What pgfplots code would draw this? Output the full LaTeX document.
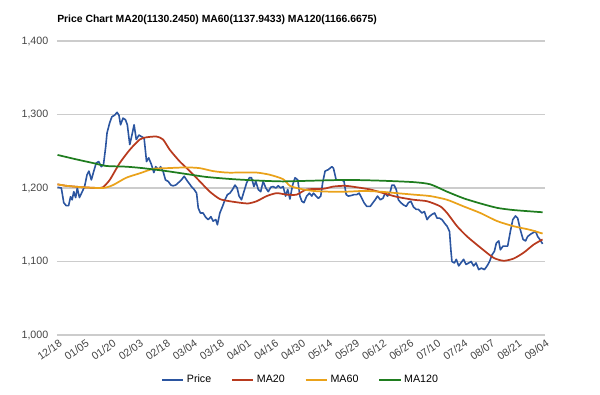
\documentclass[border=0pt]{standalone}
\usepackage{pgfplots}
\pgfplotsset{compat=1.18}
\usepackage{fontspec}
\setmainfont{Liberation Sans}
\definecolor{cPrice}{HTML}{2B55A0}
\definecolor{cMA20}{HTML}{B83A1E}
\definecolor{cMA60}{HTML}{EAA21A}
\definecolor{cMA120}{HTML}{1F7D1F}
\definecolor{gridc}{HTML}{CCCCCC}
\definecolor{tickc}{HTML}{444444}
\begin{document}
\begin{tikzpicture}
\path[use as bounding box] (-42.75pt,-44.25pt) rectangle (407.25pt,251.25pt);
\begin{axis}[
  scale only axis,
  width=366pt, height=220.5pt,
  xmin=-0.2, xmax=180.2,
  ymin=1000, ymax=1400,
  axis line style={draw=none},
  tick style={draw=none},
  ytick={1000,1100,1200,1300,1400},
  ymajorgrids,
  grid style={gridc, line width=0.8pt},
  xtick={0,10,...,180},
  xticklabels={12/18,01/05,01/20,02/03,02/18,03/04,03/18,04/01,04/16,04/30,05/14,05/29,06/12,06/26,07/10,07/24,08/07,08/21,09/04},
  xticklabel style={rotate=35, anchor=north east, inner sep=1pt, font=\fontsize{8}{9}\selectfont, text=tickc, yshift=-1.5pt},
  yticklabel style={font=\fontsize{8}{9}\selectfont, text=tickc, xshift=-3pt},
  /pgf/number format/assume math mode=true,
  /pgf/number format/1000 sep={,},
  scaled y ticks=false,
  legend columns=4,
  legend style={at={(0.5,-0.153)}, anchor=center, draw=none, fill=none,
    font=\fontsize{8}{9}\selectfont,
    /tikz/every even column/.append style={column sep=13pt}},
  legend image code/.code={\draw[#1] (0pt,0pt) -- (16pt,0pt);},
]
\addplot[cPrice, line width=1.2pt, line join=round] coordinates {
(0,1201)(1.4,1200)(2.3,1180)(3.2,1176)(4.1,1176)(4.8,1188)(5.4,1184)(6.0,1195)(6.7,1187)(7.3,1200)
(8.1,1187)(9.0,1194)(10.0,1202)(10.9,1218)(11.6,1223)(12.5,1211)(13.4,1223)(14.3,1234)(15.2,1236)(16.2,1229)
(17.0,1232)(17.8,1256)(18.3,1275)(19.3,1289)(20.1,1297)(21.1,1299)(22.0,1303)(22.7,1299)(23.3,1286)(24.2,1295)
(25.1,1293)(25.8,1286)(26.7,1259)(27.5,1272)(28.3,1286)(29.1,1266)(30.1,1272)(31.0,1270)(32.0,1268)(32.9,1236)
(33.7,1241)(34.7,1232)(35.6,1221)(36.3,1229)(37.4,1225)(38.1,1229)(39.0,1223)(39.9,1211)(40.9,1209)(41.9,1204)
(42.7,1203)(43.7,1204)(44.6,1207)(45.8,1211)(46.8,1216)(47.7,1211)(48.5,1207)(49.5,1202)(50.5,1198)(51.4,1193)
(52.0,1173)(52.8,1166)(53.8,1166)(54.8,1160)(55.7,1157)(56.7,1161)(57.5,1155)(58.5,1157)(59.1,1150)(60.0,1166)
(61.0,1175)(61.9,1184)(62.8,1191)(63.7,1193)(64.7,1198)(65.6,1204)(66.4,1200)(67.1,1189)(68.0,1184)(68.9,1195)
(69.9,1207)(70.9,1214)(71.7,1214)(72.6,1202)(73.3,1209)(74.2,1198)(75.1,1195)(76.0,1209)(77.0,1200)(77.9,1195)
(78.8,1201)(79.7,1202)(80.7,1200)(81.6,1203)(82.5,1200)(83.4,1202)(84.3,1189)(85.1,1198)(85.9,1185)(86.9,1204)
(87.8,1214)(88.8,1211)(89.6,1189)(90.3,1182)(91.1,1180)(92.1,1189)(93.1,1193)(94.0,1189)(94.6,1193)(95.6,1189)
(96.4,1186)(97.3,1189)(98.0,1207)(98.9,1223)(100.1,1225)(101.4,1229)(102.0,1227)(103.0,1211)(103.8,1211)(105.1,1211)
(105.9,1209)(106.7,1191)(107.5,1189)(108.8,1190)(109.6,1191)(110.6,1191)(111.5,1193)(112.5,1186)(113.3,1180)(114.3,1175)
(115.6,1175)(116.6,1180)(117.4,1184)(118.3,1189)(119.3,1184)(120.3,1186)(121.1,1193)(122.0,1189)(123.0,1195)(123.6,1204)
(124.4,1204)(125.2,1198)(126.0,1184)(126.9,1180)(127.9,1177)(128.9,1175)(129.7,1180)(130.6,1182)(131.6,1174)(132.6,1171)
(133.4,1171)(134.7,1166)(135.6,1168)(136.6,1157)(137.4,1161)(138.4,1164)(139.4,1166)(140.3,1159)(141.2,1159)(142.1,1157)
(143.1,1152)(144.0,1148)(144.9,1141)(145.4,1116)(145.8,1100)(146.7,1098)(147.4,1103)(148.3,1094)(149.1,1098)(150.1,1103)
(151.0,1096)(152.0,1098)(152.9,1100)(153.8,1094)(154.7,1098)(155.7,1089)(156.7,1091)(157.8,1089)(158.8,1094)(159.7,1100)
(160.6,1109)(161.5,1114)(162.2,1125)(163.1,1128)(163.7,1116)(164.7,1121)(165.6,1121)(166.4,1121)(167.4,1141)(168.3,1157)
(169.3,1162)(170.1,1159)(171.1,1143)(172.1,1130)(173.0,1128)(173.8,1134)(174.8,1137)(175.7,1139)(176.7,1141)(177.5,1134)
(178.3,1130)(179.3,1124)
};
\addlegendentry{Price}
\addplot[cMA20, line width=1.3pt, smooth, tension=0.4] coordinates {
(0,1205)(3.2,1203)(9.4,1201)(15.6,1200)(16.8,1201)(19.3,1211)(23.0,1234)(26.7,1252)(30.4,1266)(32.9,1269)
(36.6,1270)(39.0,1266)(41.5,1252)(45.2,1236)(48.9,1223)(52.6,1209)(56.3,1195)(60.0,1185)(63.7,1182)(67.4,1180)
(70.5,1179)(73.6,1182)(77.3,1189)(81.0,1193)(84.7,1191)(88.4,1191)(92.1,1198)(98.3,1199)(102.0,1202)(106.3,1203)
(110.6,1201)(115.6,1198)(120.5,1193)(125.4,1188)(131.6,1184)(136.6,1182)(141.5,1175)(144.0,1166)(147.7,1148)(151.4,1134)
(156.3,1119)(161.2,1105)(164.9,1101)(168.6,1104)(172.3,1112)(176.0,1123)(179.3,1130)
};
\addlegendentry{MA20}
\addplot[cMA60, line width=1.3pt, smooth, tension=0.4] coordinates {
(0,1205)(3.2,1203)(9.4,1201)(16.8,1200)(20.5,1204)(25.4,1214)(30.4,1220)(35.3,1226)(40.3,1227)(47.7,1228)
(52.6,1227)(57.5,1223)(62.5,1221)(67.4,1221)(73.6,1221)(78.5,1218)(83.4,1212)(85.9,1203)(89.6,1199)(94.6,1196)
(100.7,1195)(106.9,1195)(113.1,1196)(119.3,1195)(125.4,1193)(131.6,1191)(137.8,1189)(144.0,1184)(150.1,1175)(156.3,1166)
(162.5,1155)(168.6,1148)(174.8,1143)(179.3,1138)
};
\addlegendentry{MA60}
\addplot[cMA120, line width=1.3pt, smooth, tension=0.4] coordinates {
(0,1245)(6.9,1239)(13.1,1234)(18.0,1230)(25.4,1229)(31.6,1227)(40.3,1223)(47.7,1219)(55.1,1215)(64.9,1212)
(74.8,1210)(83.4,1209)(94.6,1210)(106.9,1211)(119.3,1210)(131.6,1208)(137.8,1205)(144.0,1195)(150.1,1186)(156.3,1179)
(162.5,1173)(168.6,1170)(179.3,1167)
};
\addlegendentry{MA120}
\end{axis}
\node[anchor=base west, inner sep=0pt, font=\fontsize{7.8}{9}\selectfont\bfseries] at (0pt,234.5pt) {Price Chart MA20(1130.2450) MA60(1137.9433) MA120(1166.6675)};
\end{tikzpicture}
\end{document}
